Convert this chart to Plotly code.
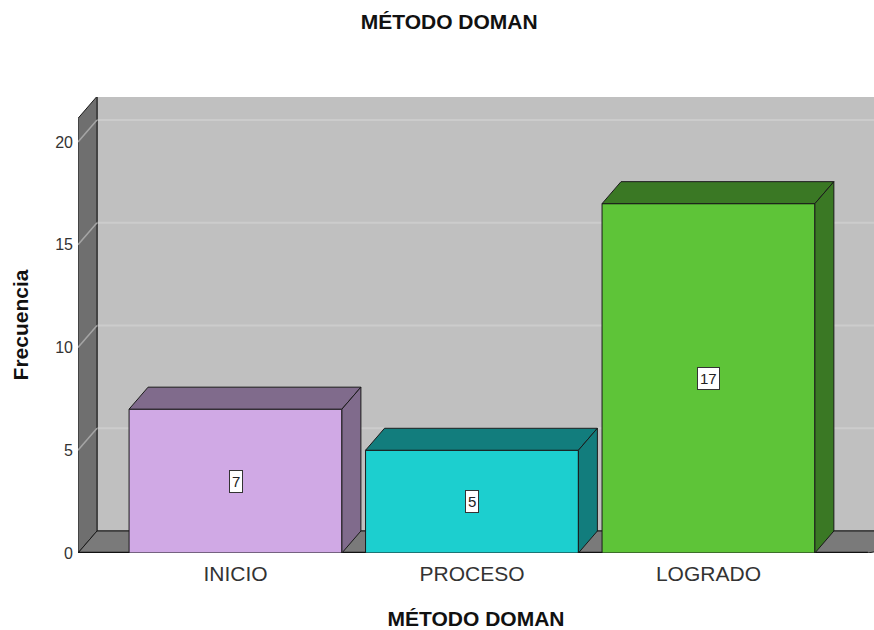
import plotly.graph_objects as go

# ---- data ----
categories = ["INICIO", "PROCESO", "LOGRADO"]
values = [7, 5, 17]
front_colors = ["#d0a9e5", "#1ccfcf", "#5ec438"]
shade_colors = ["#806b8c", "#127d7d", "#3a7824"]
y_ticks = [0, 5, 10, 15, 20]

# ---- geometry / style ----
BW = 0.9          # bar width (x units)
DX = 0.0803       # depth offset x (x units)
DY = 1.07         # depth offset y (y units)
X0, X1 = -0.666, 2.70
XFLOOR_R = 2.674
Y_TOP_FRONT = 21.15
YMAX = 22.19
EDGE = "#1a1a1a"
FONT = "Arial, Liberation Sans, sans-serif"

fig = go.Figure()

def poly(xs, ys, fill, line_color=EDGE, width=1):
    fig.add_trace(go.Scatter(
        x=xs + [xs[0]], y=ys + [ys[0]], mode="lines", fill="toself",
        fillcolor=fill, line=dict(color=line_color, width=width),
        hoverinfo="skip", showlegend=False))

def seg(xs, ys, color, width=1.5):
    fig.add_trace(go.Scatter(
        x=xs, y=ys, mode="lines", line=dict(color=color, width=width),
        hoverinfo="skip", showlegend=False))

# back wall
poly([X0 + DX, 3.2, 3.2, X0 + DX], [DY, DY, Y_TOP_FRONT + DY, Y_TOP_FRONT + DY], "#c0c0c0")
for v in y_ticks[1:]:
    seg([X0 + DX, 3.2], [v + DY, v + DY], "#cccccc", 2)
# side wall
poly([X0, X0, X0 + DX, X0 + DX], [0, Y_TOP_FRONT, Y_TOP_FRONT + DY, DY], "#6f6f6f")
for v in y_ticks[1:]:
    seg([X0, X0 + DX], [v, v + DY], "#a5a5a5", 1.5)
# floor
poly([X0, X0 + DX, 3.2, 3.2, XFLOOR_R], [0, DY, DY, DY, 0], "#7a7a7a")
seg([X0, XFLOOR_R], [0, 0], "#111111", 2.5)

# bars
for i, (cat, v) in enumerate(zip(categories, values)):
    l, r = i - BW / 2, i + BW / 2
    poly([l, r, r, l], [0, 0, v, v], front_colors[i])                       # front
    poly([l, r, r + DX, l + DX], [v, v, v + DY, v + DY], shade_colors[i])   # top
    poly([r, r + DX, r + DX, r], [0, DY, v + DY, v], shade_colors[i])       # side
    fig.add_annotation(x=i, y=v / 2, text=str(v), showarrow=False,
                       font=dict(family=FONT, size=15, color="#222"),
                       bgcolor="white", bordercolor="#333", borderwidth=1, borderpad=2)

fig.update_layout(
    width=874, height=630,
    margin=dict(l=78, r=0, t=97, b=77),
    paper_bgcolor="white", plot_bgcolor="white",
    title=dict(text="<b>MÉTODO DOMAN</b>", x=0.514, xanchor="center", y=0.965, yanchor="middle",
               font=dict(family=FONT, size=21, color="#111")),
    font=dict(family=FONT),
    xaxis=dict(range=[X0, X1], tickmode="array", tickvals=list(range(len(categories))),
               ticktext=categories, showgrid=False, zeroline=False, showline=False,
               ticks="", tickfont=dict(size=21, color="#333"), ticklabelstandoff=6,
               title=dict(text="<b>MÉTODO DOMAN</b>", font=dict(size=21, color="#111"), standoff=28)),
    yaxis=dict(range=[0, YMAX], tickmode="array", tickvals=y_ticks,
               showgrid=False, zeroline=False, showline=False, ticks="",
               tickfont=dict(size=16, color="#333"), ticklabelstandoff=4,
               title=dict(text="<b>Frecuencia</b>", font=dict(size=21, color="#111"), standoff=20)),
)

fig.write_html("out.html", config={"displayModeBar": False},
               post_script="document.body.style.margin='0';document.body.style.overflow='hidden';")
